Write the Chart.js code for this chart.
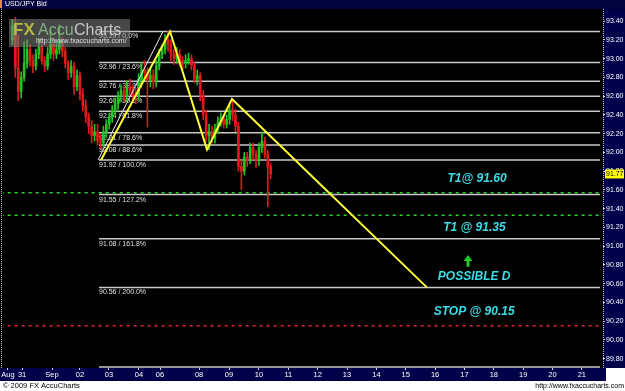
<!DOCTYPE html>
<html>
<head>
<meta charset="utf-8">
<script src="https://cdn.jsdelivr.net/npm/chart.js@4"></script>
<style>
html, body { margin: 0; padding: 0; background: #fff; }
</style>
</head>
<body>
<canvas id="usdjpy_chart" width="625" height="391"></canvas>
<script>

//usdjpy candles (one candle per slot, oldest first)

let opens = [93.20, 93.35, 92.90, 92.65, 92.80, 92.95, 93.10, 92.98, 92.92, 93.05,
             93.12, 92.98, 92.92, 93.05, 93.15, 93.05, 93.10, 93.18, 93.08, 92.95,
             92.85, 92.92, 92.70, 92.82, 92.62, 92.50, 92.38, 92.28, 92.18, 92.22,
             92.12, 92.10, 92.22, 92.30, 92.38, 92.45, 92.52, 92.60, 92.66, 92.60,
             92.70, 92.66, 92.62, 92.60, 92.78, 92.88, 92.85, 92.78, 92.82, 92.75,
             92.92, 93.05, 93.10, 93.20, 93.15, 93.05, 93.00, 93.05, 92.98, 92.95,
             92.98, 93.00, 92.93, 92.78, 92.82, 92.62, 92.40, 92.18, 92.22, 92.15,
             92.25, 92.32, 92.36, 92.30, 92.35, 92.45, 92.40, 92.28, 91.85, 91.80,
             91.95, 91.92, 92.05, 91.98, 91.92, 92.05, 92.12, 91.98, 91.85];

let highs = [93.42, 93.44, 93.25, 92.86, 93.18, 93.20, 93.15, 93.04, 93.10, 93.22,
             93.16, 93.02, 93.12, 93.30, 93.22, 93.16, 93.36, 93.22, 93.12, 92.98,
             92.98, 92.96, 92.88, 92.86, 92.68, 92.56, 92.42, 92.34, 92.30, 92.30,
             92.20, 92.28, 92.35, 92.42, 92.50, 92.58, 92.65, 92.72, 92.70, 92.76,
             92.78, 92.72, 92.68, 92.84, 92.96, 92.98, 92.90, 92.90, 92.88, 92.98,
             93.10, 93.14, 93.26, 93.29, 93.20, 93.10, 93.12, 93.10, 93.02, 93.04,
             93.06, 93.04, 92.96, 92.88, 92.85, 92.66, 92.45, 92.30, 92.28, 92.30,
             92.38, 92.42, 92.40, 92.40, 92.52, 92.57, 92.46, 92.32, 91.92, 92.00,
             92.00, 92.10, 92.10, 92.02, 92.10, 92.22, 92.16, 92.02, 91.88];

let lows = [93.15, 92.80, 92.55, 92.58, 92.76, 92.90, 92.92, 92.85, 92.88, 93.00,
            92.94, 92.86, 92.88, 93.00, 92.98, 93.00, 93.05, 93.02, 92.90, 92.78,
            92.80, 92.62, 92.66, 92.56, 92.44, 92.32, 92.20, 92.10, 92.12, 92.08,
            92.04, 92.06, 92.16, 92.25, 92.32, 92.40, 92.46, 92.54, 92.54, 92.55,
            92.60, 92.55, 92.52, 92.56, 92.72, 92.78, 92.27, 92.70, 92.68, 92.70,
            92.88, 93.00, 93.05, 93.08, 92.98, 92.94, 92.95, 92.92, 92.88, 92.90,
            92.94, 92.88, 92.74, 92.72, 92.55, 92.35, 92.12, 92.03, 92.10, 92.10,
            92.20, 92.28, 92.26, 92.26, 92.30, 92.34, 92.22, 91.80, 91.60, 91.76,
            91.85, 91.88, 91.92, 91.84, 91.86, 92.00, 91.94, 91.42, 91.72];

let closes = [93.35, 92.90, 92.65, 92.80, 92.95, 93.10, 92.98, 92.92, 93.05, 93.12,
              92.98, 92.92, 93.05, 93.15, 93.05, 93.10, 93.18, 93.08, 92.95, 92.85,
              92.92, 92.70, 92.82, 92.62, 92.50, 92.38, 92.28, 92.18, 92.22, 92.12,
              92.10, 92.22, 92.30, 92.38, 92.45, 92.52, 92.60, 92.66, 92.60, 92.70,
              92.66, 92.62, 92.60, 92.78, 92.88, 92.85, 92.78, 92.82, 92.75, 92.92,
              93.05, 93.10, 93.20, 93.15, 93.05, 93.00, 93.05, 92.98, 92.95, 92.98,
              93.00, 92.93, 92.78, 92.82, 92.62, 92.40, 92.18, 92.22, 92.15, 92.25,
              92.32, 92.36, 92.30, 92.35, 92.45, 92.40, 92.28, 91.85, 91.80, 91.95,
              91.92, 92.05, 91.98, 91.92, 92.05, 92.12, 91.98, 91.85, 91.77];

// time axis in chart days, 10 slots per day
const candleStart = 1.6;
const candleStep = 0.1;
const times = closes.map((c, i) => candleStart + i * candleStep);

let xTickValues = [1.45, 1.93, 2.95, 3.9, 4.89, 5.91, 6.63, 7.96, 8.98, 10, 11, 12, 13, 14, 15, 16, 17, 18, 19, 20, 21];
let xTickLabels = ['Aug', '31', 'Sep', '02', '03', '04', '06', '08', '09', '10', '11', '12', '13', '14', '15', '16', '17', '18', '19', '20', '21'];
let yTickValues = [89.8, 90.0, 90.2, 90.4, 90.6, 90.8, 91.0, 91.2, 91.4, 91.6, 91.8, 92.0, 92.2, 92.4, 92.6, 92.8, 93.0, 93.2, 93.4];

//fibonacci levels
let fibPrices = [93.29, 92.96, 92.76, 92.60, 92.44, 92.21, 92.08, 91.92, 91.55, 91.08, 90.56, 89.71];
let fibLabels = ['93.29 / 0.0%', '92.96 / 23.6%', '92.76 / 38.2%', '92.60 / 50.0%', '92.44 / 61.8%',
                 '92.21 / 78.6%', '92.08 / 88.6%', '91.92 / 100.0%', '91.55 / 127.2%', '91.08 / 161.8%',
                 '90.56 / 200.0%', ''];
const fibFrom = 4.55;
const fibTo = 21.62;

let targetPrices = [91.57, 91.33];
let stopPrice = 90.15;
let lastPrice = 91.77;

//XABCD pattern
let patternX = [4.62, 6.97, 8.23, 9.08, 15.72];
let patternY = [91.92, 93.29, 92.03, 92.57, 90.56];
let fibLegX = [4.52, 6.73];
let fibLegY = [91.92, 93.29];

const colorUp = '#22c422';
const colorDown = '#e01a1a';
const candleColor = ctx => closes[ctx.dataIndex] >= opens[ctx.dataIndex] ? colorUp : colorDown;

const notes = [
    { text: 'T1@ 91.60', x: 17.43, y: 91.72 },
    { text: 'T1 @ 91.35', x: 17.34, y: 91.20 },
    { text: 'POSSIBLE D', x: 17.33, y: 90.67 },
    { text: 'STOP @ 90.15', x: 17.33, y: 90.30 }
];

const fibDatasets = fibPrices.map(p => ({
    type: 'line',
    data: [{ x: fibFrom, y: p }, { x: fibTo, y: p }],
    borderColor: '#c8c8c8',
    borderWidth: 1.5,
    pointRadius: 0,
    order: 6
}));

const targetDatasets = targetPrices.map(p => ({
    type: 'line',
    data: [{ x: 1.2, y: p }, { x: 21.8, y: p }],
    borderColor: '#33cc33',
    borderWidth: 1.5,
    borderDash: [3, 4],
    pointRadius: 0,
    order: 5
}));

const stopDataset = {
    type: 'line',
    data: [{ x: 1.2, y: stopPrice }, { x: 21.8, y: stopPrice }],
    borderColor: '#dd2626',
    borderWidth: 1.5,
    borderDash: [3, 4],
    pointRadius: 0,
    order: 5
};

const wickDataset = {
    type: 'bar',
    data: times.map((t, i) => ({ x: t, y: [lows[i], highs[i]] })),
    backgroundColor: candleColor,
    barThickness: 1,
    grouped: false,
    order: 3
};

const bodyDataset = {
    type: 'bar',
    data: times.map((t, i) => ({ x: t, y: [opens[i], closes[i]] })),
    backgroundColor: candleColor,
    barThickness: 2,
    minBarLength: 1,
    grouped: false,
    order: 2
};

const legDataset = {
    type: 'line',
    data: fibLegX.map((x, i) => ({ x: x, y: fibLegY[i] })),
    borderColor: '#e8e8e8',
    borderWidth: 1,
    pointRadius: 0,
    order: 1
};

const patternDataset = {
    type: 'line',
    data: patternX.map((x, i) => ({ x: x, y: patternY[i] })),
    borderColor: '#ffff33',
    borderWidth: 2,
    pointRadius: 0,
    tension: 0,
    order: 0
};

const overlay = {
    id: 'overlay',
    beforeDraw(chart) {
        const c = chart.ctx, a = chart.chartArea, W = chart.width, H = chart.height;
        c.save();
        c.fillStyle = '#fff';
        c.fillRect(0, 0, W, H);
        c.fillStyle = '#02023e';
        c.fillRect(0, 0, W, a.top);
        c.fillStyle = '#000';
        c.fillRect(0, a.top, a.right, a.bottom - a.top);
        c.fillStyle = '#00004a';
        c.fillRect(a.right, a.top, W - a.right, a.bottom - a.top);
        c.fillRect(0, a.bottom, a.right + 3, 13);
        c.restore();
    },
    beforeDatasetsDraw(chart) {
        const c = chart.ctx, x = chart.scales.x, y = chart.scales.y;
        c.save();
        c.font = '7px "Liberation Sans"';
        c.fillStyle = '#e0e0e0';
        c.textAlign = 'left';
        c.textBaseline = 'top';
        fibPrices.forEach((p, i) => {
            c.fillText(fibLabels[i], x.getPixelForValue(fibFrom), y.getPixelForValue(p) + 1.5);
        });
        c.restore();
    },
    afterDatasetsDraw(chart) {
        const c = chart.ctx, x = chart.scales.x, y = chart.scales.y;
        c.save();
        // watermark
        c.fillStyle = 'rgba(130,130,130,0.55)';
        c.fillRect(9, 19, 121, 28);
        c.textBaseline = 'alphabetic';
        c.font = 'bold 17px "Liberation Sans"';
        c.fillStyle = 'rgba(195,205,60,0.85)';
        c.fillText('FX', 13, 35);
        c.font = '16px "Liberation Sans"';
        c.fillStyle = 'rgba(140,195,140,0.85)';
        c.fillText('Accu', 38, 35);
        c.fillStyle = 'rgba(220,220,220,0.85)';
        c.fillText('Charts', 74, 35);
        c.font = '7px "Liberation Sans"';
        c.fillStyle = 'rgba(235,235,235,0.9)';
        c.fillText('http://www.fxaccucharts.com/', 36, 43);

        // trade notes
        c.font = 'italic bold 12px "Liberation Sans"';
        c.fillStyle = '#3cdce6';
        c.textAlign = 'center';
        c.textBaseline = 'middle';
        notes.forEach(n => c.fillText(n.text, x.getPixelForValue(n.x), y.getPixelForValue(n.y)));

        // green arrow above POSSIBLE D
        const ax = x.getPixelForValue(17.12);
        const top = y.getPixelForValue(90.905), bot = y.getPixelForValue(90.78);
        c.fillStyle = '#22cc22';
        c.beginPath();
        c.moveTo(ax, top);
        c.lineTo(ax - 4.5, top + 6);
        c.lineTo(ax + 4.5, top + 6);
        c.closePath();
        c.fill();
        c.fillRect(ax - 1.5, top + 5, 3, bot - top - 5);
        c.restore();
    },
    afterDraw(chart) {
        const c = chart.ctx, a = chart.chartArea, y = chart.scales.y, W = chart.width;
        c.save();
        // title bar
        c.fillStyle = '#e09030';
        c.fillRect(0, 0, 2, a.top - 1);
        c.font = '7px "Liberation Sans"';
        c.fillStyle = '#fff';
        c.textBaseline = 'middle';
        c.fillText('USD/JPY Bid', 5, 4.5);

        // dotted borders
        c.strokeStyle = '#c8c8c8';
        c.lineWidth = 1;
        c.setLineDash([1, 1]);
        c.beginPath();
        c.moveTo(a.right + 0.5, a.top);
        c.lineTo(a.right + 0.5, a.bottom);
        c.moveTo(1.5, a.top);
        c.lineTo(1.5, a.bottom);
        c.stroke();
        c.setLineDash([]);

        // last price marker
        const ly = y.getPixelForValue(lastPrice);
        c.fillStyle = '#ffff00';
        c.fillRect(a.right + 2, ly - 4.5, 19, 9);
        c.fillStyle = '#000';
        c.font = '7px "Liberation Sans"';
        c.textAlign = 'left';
        c.fillText(lastPrice.toFixed(2), a.right + 3, ly);

        // footer
        c.fillStyle = '#000';
        c.font = '7.5px "Liberation Sans"';
        c.fillText('\u00a9 2009 FX AccuCharts', 3, 386);
        c.font = '7px "Liberation Sans"';
        c.textAlign = 'right';
        c.fillText('http://www.fxaccucharts.com', W - 1, 386);
        c.restore();
    }
};

const usdjpy_config = {
    type: 'bar',
    data: {
        datasets: [...fibDatasets, ...targetDatasets, stopDataset, wickDataset, bodyDataset, legDataset, patternDataset]
    },
    options: {
        responsive: false,
        animation: false,
        events: [],
        layout: {
            padding: { top: 9, left: 3, right: 0, bottom: 10 }
        },
        plugins: {
            legend: { display: false },
            tooltip: { enabled: false }
        },
        scales: {
            x: {
                type: 'linear',
                min: 1.28,
                max: 21.72,
                offset: false,
                grid: { display: true, offset: false, drawOnChartArea: false, drawTicks: true, tickLength: 2, color: '#d0d0d0' },
                border: { display: false },
                afterBuildTicks: scale => {
                    scale.ticks = xTickValues.map(v => ({ value: v }));
                },
                afterFit: scale => {
                    scale.height = 13;
                },
                ticks: {
                    autoSkip: false,
                    maxRotation: 0,
                    padding: 0,
                    color: '#fff',
                    font: { family: 'Liberation Sans', size: 7.5 },
                    callback: (value, index) => xTickLabels[index]
                }
            },
            y: {
                position: 'right',
                min: 89.70,
                max: 93.53,
                grid: { display: true, drawOnChartArea: false, drawTicks: true, tickLength: 2, color: '#d0d0d0' },
                border: { display: false },
                afterBuildTicks: scale => {
                    scale.ticks = yTickValues.map(v => ({ value: v }));
                },
                afterFit: scale => {
                    scale.width = 22;
                },
                ticks: {
                    padding: 1,
                    color: '#fff',
                    font: { family: 'Liberation Sans', size: 7 },
                    callback: value => value.toFixed(2)
                }
            }
        }
    },
    plugins: [overlay]
};

const usdjpy_chart = new Chart(
    document.getElementById('usdjpy_chart'),
    usdjpy_config
);
</script>
</body>
</html>
